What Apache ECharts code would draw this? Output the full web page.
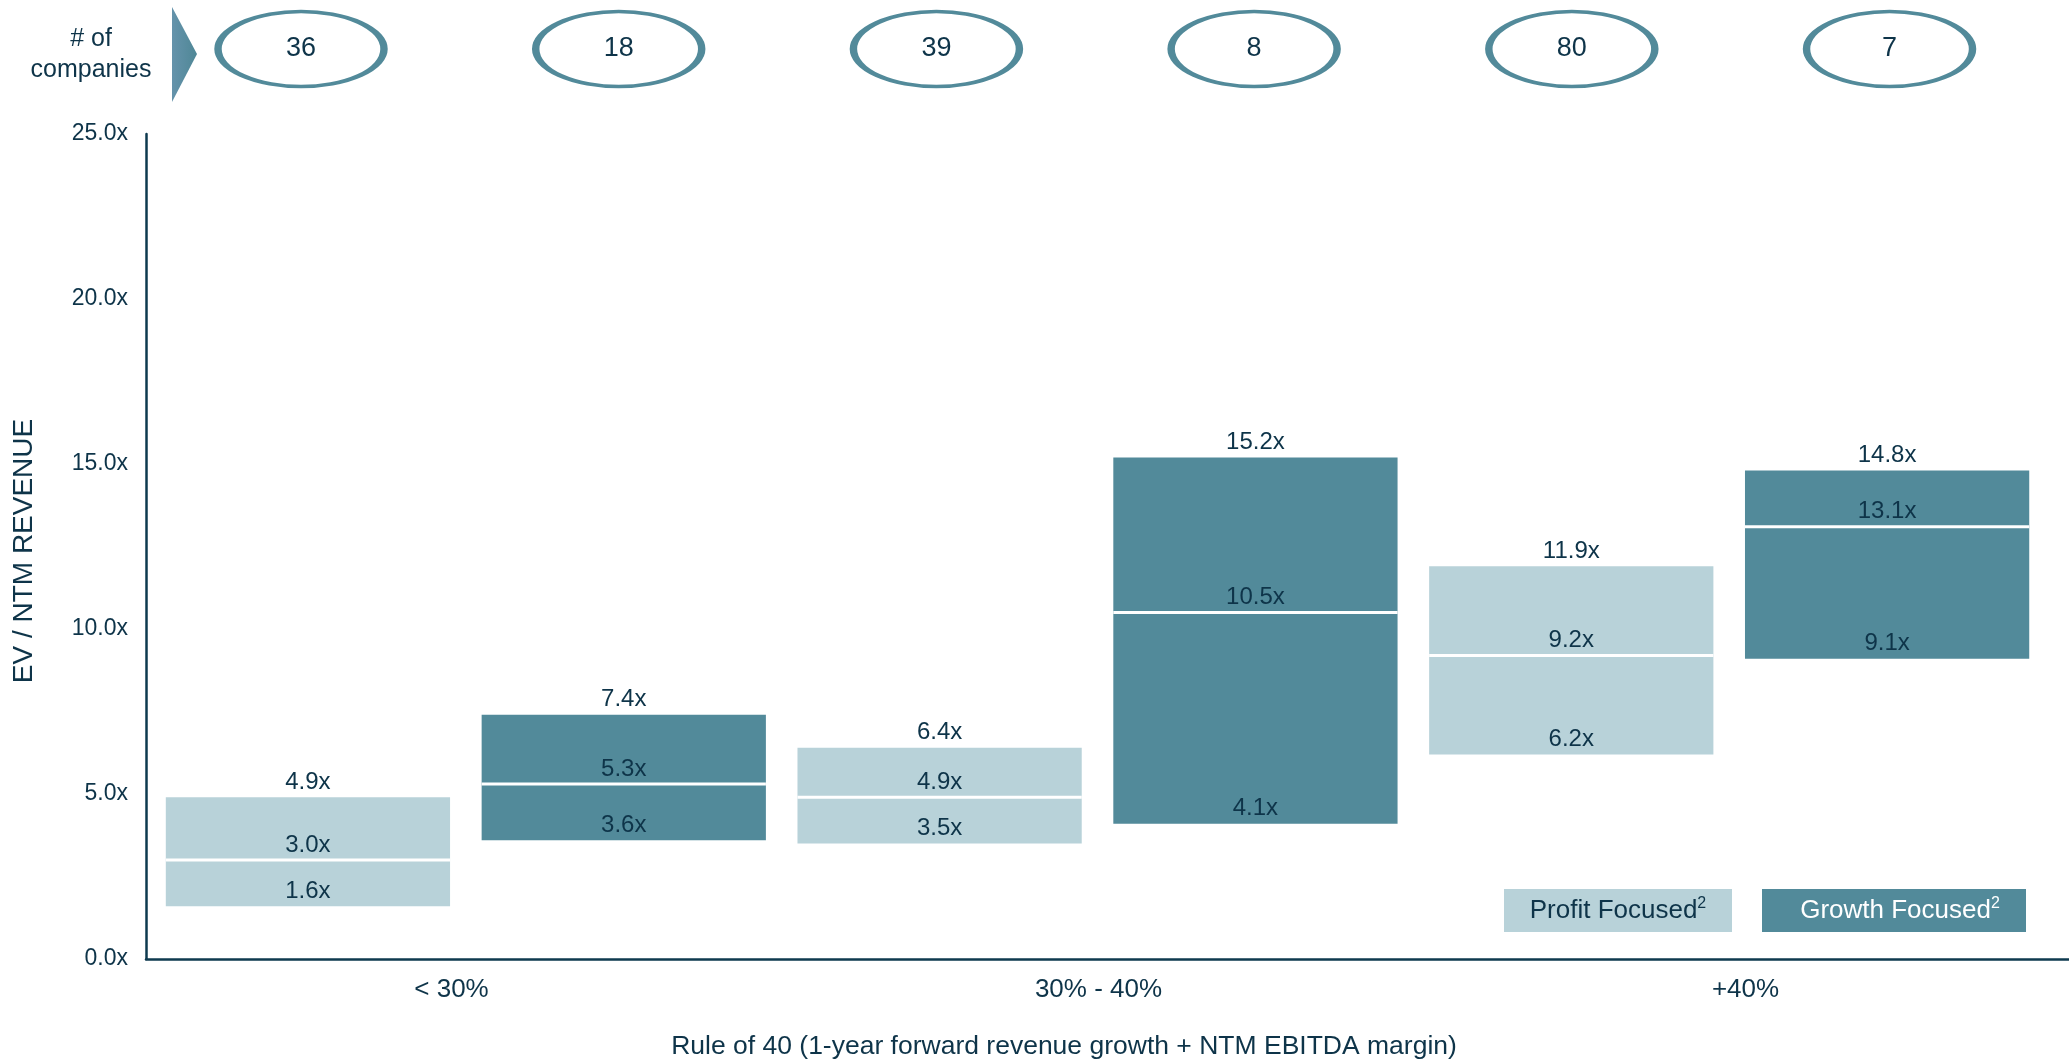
<!DOCTYPE html>
<html>
<head>
<meta charset="utf-8">
<script src="https://cdn.jsdelivr.net/npm/echarts@6/dist/echarts.min.js"></script>
<style>
html,body{margin:0;padding:0;background:#fff;}
#chart{width:2069px;height:1061px;}
</style>
</head>
<body>
<div id="chart"></div>
<script>
// ---- data ----
const groupLabels = ['< 30%', '30% - 40%', '+40%'];
const focusTypes = ['Profit', 'Growth', 'Profit', 'Growth', 'Profit', 'Growth'];
const lows = [1.6, 3.6, 3.5, 4.1, 6.2, 9.1];
const medians = [3.0, 5.3, 4.9, 10.5, 9.2, 13.1];
const highs = [4.9, 7.4, 6.4, 15.2, 11.9, 14.8];
const companyCounts = [36, 18, 39, 8, 80, 7];
const yMin = 0, yMax = 25, yStep = 5;
const yAxisName = 'EV / NTM REVENUE';
const xAxisTitle = 'Rule of 40 (1-year forward revenue growth + NTM EBITDA margin)';
const legendLabels = ['Profit Focused', 'Growth Focused'];
const countsLabel = '# of\ncompanies';

// ---- styles ----
const LIGHT = '#b8d2d9';
const DARK = '#528a9a';
const TEXT = '#0e3449';
const AXIS = '#0e3a4f';
const FONT = '"Liberation Sans", Arial, sans-serif';

const xMin = -0.5127, xMax = 5.5759;
const cMin = -0.4879, cMax = 5.5649;

const rangeData = lows.map((l, i) => [i, l, medians[i], highs[i], focusTypes[i] === 'Profit' ? 0 : 1]);
const countData = companyCounts.map((c, i) => [i, 0.5, c]);

function fmt(v) { return v.toFixed(1) + 'x'; }

function renderRange(params, api) {
  const i = api.value(0);
  const lo = api.coord([i, api.value(1)]);
  const md = api.coord([i, api.value(2)]);
  const hi = api.coord([i, api.value(3)]);
  const w = api.size([0.9, 0])[0];
  const color = api.value(4) === 0 ? LIGHT : DARK;
  const x0 = lo[0] - w / 2;
  const font = '24px ' + FONT;
  return {
    type: 'group',
    children: [
      { type: 'rect', shape: { x: x0, y: hi[1], width: w, height: lo[1] - hi[1] }, style: { fill: color } },
      { type: 'line', shape: { x1: x0, y1: md[1], x2: x0 + w, y2: md[1] }, style: { stroke: '#ffffff', lineWidth: 3 } },
      { type: 'text', x: lo[0], y: hi[1] - 3, style: { text: fmt(api.value(3)), align: 'center', verticalAlign: 'bottom', fill: TEXT, font: font } },
      { type: 'text', x: lo[0], y: md[1] - 3, style: { text: fmt(api.value(2)), align: 'center', verticalAlign: 'bottom', fill: TEXT, font: font } },
      { type: 'text', x: lo[0], y: lo[1] - 3, style: { text: fmt(api.value(1)), align: 'center', verticalAlign: 'bottom', fill: TEXT, font: font } }
    ]
  };
}

const chart = echarts.init(document.getElementById('chart'), null, { renderer: 'canvas' });

const option = {
  backgroundColor: '#ffffff',
  animation: false,
  grid: [
    { left: 146, right: 0, top: 134, bottom: 102 },
    { left: 146, right: 0, top: 0, height: 98 },
    { left: 128, width: 1953, top: 134, bottom: 102 }
  ],
  xAxis: [
    { gridIndex: 0, type: 'value', min: xMin, max: xMax,
      axisLine: { show: true, onZero: false, lineStyle: { color: AXIS, width: 2.5 } },
      axisTick: { show: false }, axisLabel: { show: false }, splitLine: { show: false } },
    { gridIndex: 1, type: 'value', min: cMin, max: cMax, show: false },
    { gridIndex: 2, type: 'category', data: groupLabels,
      axisLine: { show: false }, axisTick: { show: false }, splitLine: { show: false },
      axisLabel: { color: TEXT, fontFamily: FONT, fontSize: 26, margin: 18 } }
  ],
  yAxis: [
    { gridIndex: 0, type: 'value', min: yMin, max: yMax, interval: yStep,
      axisLine: { show: true, onZero: false, lineStyle: { color: AXIS, width: 2.5 } },
      axisTick: { show: false }, splitLine: { show: false },
      axisLabel: { color: TEXT, fontFamily: FONT, fontSize: 23, margin: 18, formatter: v => fmt(v) } },
    { gridIndex: 1, type: 'value', min: 0, max: 1, show: false },
    { gridIndex: 2, type: 'value', min: 0, max: 1, show: false }
  ],
  series: [
    { type: 'custom', xAxisIndex: 0, yAxisIndex: 0, renderItem: renderRange,
      encode: { x: 0, y: [1, 2, 3] }, data: rangeData, clip: false },
    { type: 'scatter', xAxisIndex: 1, yAxisIndex: 1, data: countData,
      symbol: 'circle', symbolSize: [166, 75],
      itemStyle: { color: '#ffffff', borderColor: DARK, borderWidth: 5, opacity: 1 },
      label: { show: true, position: 'inside', formatter: p => String(p.value[2]),
        color: TEXT, fontFamily: FONT, fontSize: 27 } }
  ],
  graphic: [
    { type: 'text', x: 91, y: 55, style: { text: countsLabel, align: 'center', verticalAlign: 'middle',
      fill: TEXT, font: '25px ' + FONT, lineHeight: 31 } },
    { type: 'polygon', shape: { points: [[172, 7], [197, 54], [172, 102]] },
      style: { fill: new echarts.graphic.LinearGradient(0, 0, 1, 0, [{ offset: 0, color: '#6593ab' }, { offset: 1, color: '#4f8796' }]) } },
    { type: 'text', x: 24, y: 551, rotation: Math.PI / 2,
      style: { text: yAxisName, align: 'center', verticalAlign: 'middle', fill: TEXT, font: '28px ' + FONT } },
    { type: 'text', x: 1064, y: 1047,
      style: { text: xAxisTitle, align: 'center', verticalAlign: 'middle', fill: TEXT, font: '26.5px ' + FONT } },
    { type: 'rect', shape: { x: 1504, y: 889, width: 228, height: 43 }, style: { fill: LIGHT } },
    { type: 'text', x: 1618, y: 911,
      style: { text: '{a|' + legendLabels[0] + '}{s|2}', align: 'center', verticalAlign: 'middle',
        rich: { a: { fill: TEXT, font: '26px ' + FONT, lineHeight: 30 },
                s: { fill: TEXT, font: '16px ' + FONT, lineHeight: 30, verticalAlign: 'top' } } } },
    { type: 'rect', shape: { x: 1762, y: 889, width: 264, height: 43 }, style: { fill: DARK } },
    { type: 'text', x: 1900, y: 911,
      style: { text: '{a|' + legendLabels[1] + '}{s|2}', align: 'center', verticalAlign: 'middle',
        rich: { a: { fill: '#ffffff', font: '26px ' + FONT, lineHeight: 30 },
                s: { fill: '#ffffff', font: '16px ' + FONT, lineHeight: 30, verticalAlign: 'top' } } } }
  ]
};
chart.setOption(option);
</script>
</body>
</html>
